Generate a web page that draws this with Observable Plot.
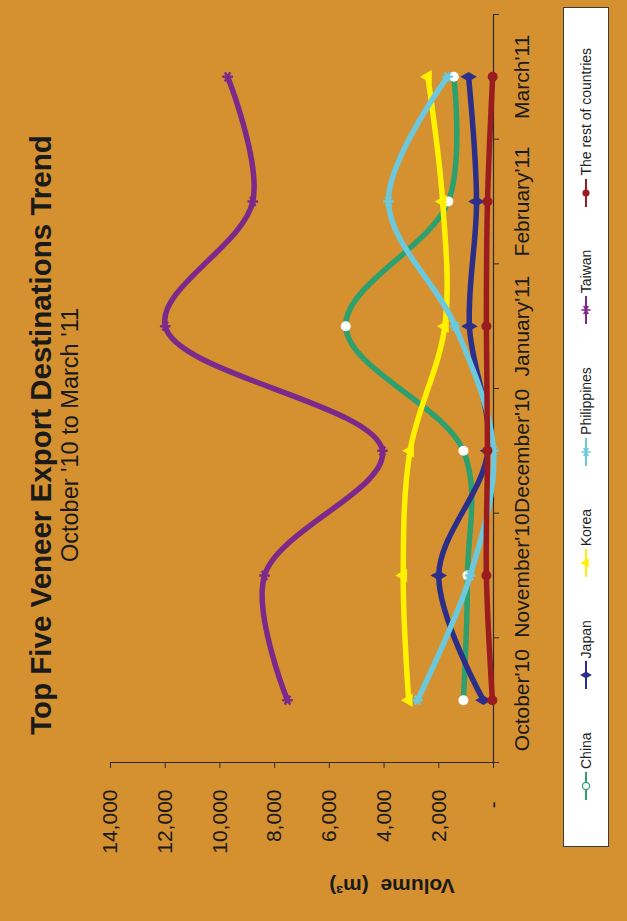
<!DOCTYPE html>
<html><head><meta charset="utf-8">
<script src="https://cdn.jsdelivr.net/npm/d3@7"></script>
<script src="https://cdn.jsdelivr.net/npm/@observablehq/plot@0.6"></script>
<style>
html,body{margin:0;padding:0;width:627px;height:921px;overflow:hidden;background:#D5912F;}
#land{position:absolute;left:0;top:0;width:921px;height:627px;background:#D5912F;transform-origin:0 0;transform:translate(0px,921px) rotate(-90deg);font-family:"Liberation Sans",Arial,sans-serif;color:#1a1a1a;}
#chart{position:absolute;left:0;top:0;}
#title{position:absolute;top:26px;left:486px;transform:translateX(-50%);white-space:nowrap;font-weight:bold;font-size:29.5px;line-height:1;}
#subtitle{position:absolute;top:59px;left:486px;transform:translateX(-50%);white-space:nowrap;font-size:23.5px;line-height:1;}
#ylabel{position:absolute;left:35px;top:392px;transform:translate(-50%,-50%) rotate(-90deg);white-space:nowrap;font-weight:bold;font-size:21px;line-height:1;}
#legend{position:absolute;left:74px;top:563px;width:838px;height:44px;background:#fff;border:1.5px solid #3a3a3a;display:flex;align-items:center;box-sizing:content-box;padding-left:0;}
#legend .item{display:flex;align-items:center;margin-left:42px;font-size:14px;color:#222;white-space:nowrap;}
#legend .item:first-child{margin-left:45px;}
#legend svg{display:block;margin-right:2px;}
</style></head><body>
<div id="land">
  <div id="chart"></div>
  <div id="title">Top Five Veneer Export Destinations Trend</div>
  <div id="subtitle">October '10 to March '11</div>
  <div id="ylabel">Volume&nbsp;&nbsp;(m³)</div>
  <div id="legend"></div>
</div>
<script>
// ---- data ----
const months = ["October'10", "November'10", "December'10", "January'11", "February'11", "March'11"];
const seriesNames = ["China", "Japan", "Korea", "Philippines", "Taiwan", "The rest of countries"];
const china       = [1100, 950, 1100, 5400, 1650, 1450];
const japan       = [370, 2000, 200, 880, 620, 910];
const korea       = [3100, 3300, 3050, 1780, 1860, 2400];
const philippines = [2780, 850, 0, 1400, 3840, 1680];
const taiwan      = [7530, 8370, 4060, 12000, 8800, 9720];
const rest        = [40, 260, 220, 260, 220, 30];
const yTicks = [0, 2000, 4000, 6000, 8000, 10000, 12000, 14000];

// ---- styles ----
const seriesValues = [china, japan, korea, philippines, taiwan, rest];
const lineColors = ["#2DA06E", "#2B2F8A", "#FFF100", "#6CC9DD", "#7B2A8C", "#9B1C1F"];
const symbols = ["circle", "diamond", "triangle", "asterisk", "asterisk", "circle"];
const markerFill = ["#ffffff", "#2B2F8A", "#FFF100", "none", "none", "#9B1C1F"];
const markerStroke = ["none", "none", "none", "#6CC9DD", "#7B2A8C", "none"];

const rows = seriesNames.flatMap((s, k) => seriesValues[k].map((v, i) => ({series: s, k, pos: i + 0.5, value: v})));

const marks = [
  Plot.axisY({ticks: yTicks, tickSize: 5, tickPadding: 22, fontSize: 21, label: null, stroke: "#2a2a2a",
    tickFormat: d => d === 0 ? "-\u00a0\u00a0" : d3.format(",")(d)}),
  Plot.axisX({ticks: d3.range(0, 7), tickSize: 6, tickFormat: () => "", label: null, stroke: "#2a2a2a"}),
  Plot.axisX({ticks: months.map((m, i) => i + 0.5), tickSize: 0, tickPadding: 21, fontSize: 21, label: null,
    tickFormat: d => months[Math.floor(d)]}),
  Plot.ruleX([0], {stroke: "#2a2a2a", strokeWidth: 1.2}),
  Plot.ruleY([0], {stroke: "#2a2a2a", strokeWidth: 1.2})
];
seriesNames.forEach((s, k) => {
  const data = rows.filter(d => d.k === k);
  marks.push(Plot.line(data, {x: "pos", y: "value", stroke: lineColors[k], strokeWidth: 5.5, curve: "catmull-rom", strokeLinecap: "round"}));
  marks.push(Plot.dot(data, {x: "pos", y: "value", symbol: () => symbols[k], r: 5,
    fill: markerFill[k], stroke: markerStroke[k], strokeWidth: 2.5}));
});

const chart = Plot.plot({
  width: 921, height: 627,
  marginTop: 110, marginBottom: 134, marginLeft: 158, marginRight: 15,
  style: {background: "transparent", fontFamily: "'Liberation Sans', Arial, sans-serif", color: "#1a1a1a", overflow: "visible"},
  x: {type: "linear", domain: [0, 6], axis: null},
  y: {domain: [0, 14000], axis: null},
  symbol: {type: "identity"},
  marks
});
document.getElementById("chart").appendChild(chart);

// ---- legend ----
const symTypes = {circle: d3.symbolCircle, diamond: d3.symbolDiamond, triangle: d3.symbolTriangle, asterisk: d3.symbolAsterisk};
const legend = d3.select("#legend");
seriesNames.forEach((s, k) => {
  const item = legend.append("div").attr("class", "item");
  const svg = item.append("svg").attr("width", 30).attr("height", 16);
  svg.append("line").attr("x1", 1).attr("x2", 29).attr("y1", 8).attr("y2", 8)
    .attr("stroke", lineColors[k]).attr("stroke-width", 2);
  const isStroke = symbols[k] === "asterisk";
  svg.append("path").attr("transform", "translate(15,8)")
    .attr("d", d3.symbol(symTypes[symbols[k]], isStroke ? 60 : 40)())
    .attr("fill", k === 0 ? "#fff" : (isStroke ? "none" : lineColors[k]))
    .attr("stroke", k === 0 || isStroke ? lineColors[k] : "none")
    .attr("stroke-width", isStroke ? 1.5 : 1.2);
  item.append("span").text(s);
});
</script>
</body></html>
